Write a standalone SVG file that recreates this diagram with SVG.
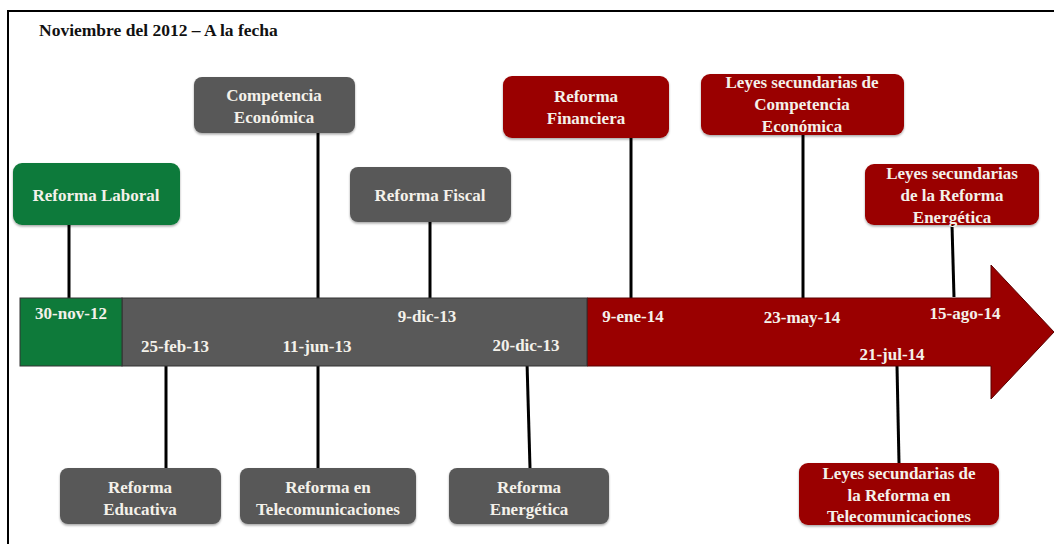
<svg xmlns="http://www.w3.org/2000/svg" width="1054" height="544" viewBox="0 0 1054 544">
<defs>
<filter id="sh" x="-10%" y="-10%" width="120%" height="130%">
<feDropShadow dx="0" dy="1.5" stdDeviation="1.2" flood-color="#000" flood-opacity="0.35"/>
</filter>
</defs>
<style>
text{font-family:"Liberation Serif","Times New Roman",serif;font-weight:bold;font-size:17px;fill:#f4f1ea;text-anchor:middle}
.title{fill:#111;text-anchor:start;font-size:17.5px}
.grey{fill:#595959}
.green{fill:#0e7a3a}
.red{fill:#9a0000}
.box{filter:url(#sh)}
.conn line{stroke:#000;stroke-width:3}
.frame{stroke:#000;stroke-width:2;fill:none}
</style>
<rect width="1054" height="544" fill="#fff"/>
<path class="frame" d="M8,544 V11 H1054"/>
<text class="title" x="39" y="36">Noviembre del 2012 – A la fecha</text>

<g id="connectors" class="conn">
<line x1="69" y1="225" x2="69" y2="298"/>
<line x1="318" y1="133" x2="318" y2="298"/>
<line x1="430" y1="222" x2="430" y2="298"/>
<line x1="631" y1="138" x2="631" y2="298"/>
<line x1="803" y1="135" x2="803" y2="298"/>
<line x1="952" y1="225" x2="954" y2="297"/>
<line x1="166" y1="366" x2="166" y2="468"/>
<line x1="318" y1="366" x2="318" y2="468"/>
<line x1="527" y1="362" x2="530" y2="468"/>
<line x1="897" y1="366" x2="899" y2="463"/>
</g>

<g id="timeline">
<polygon points="587,298 991,298 991,265 1054,332 991,399 991,366 587,366" class="red" stroke="#5a0000" stroke-width="1"/>
<rect x="122" y="298" width="465" height="68" class="grey" stroke="#333" stroke-width="1"/>
<rect x="20" y="298" width="102" height="68" class="green" stroke="#333" stroke-width="1"/>
<text x="71" y="319">30-nov-12</text>
<text x="175" y="352">25-feb-13</text>
<text x="317" y="352">11-jun-13</text>
<text x="427" y="322">9-dic-13</text>
<text x="526" y="351">20-dic-13</text>
<text x="633" y="322">9-ene-14</text>
<text x="802" y="323">23-may-14</text>
<text x="965" y="319">15-ago-14</text>
<text x="892" y="360">21-jul-14</text>
</g>

<g id="reforma-laboral">
<rect class="box green" x="13" y="163" width="167" height="62" rx="9"/>
<text x="96" y="201">Reforma Laboral</text>
</g>
<g id="competencia-economica">
<rect class="box grey" x="194" y="77" width="161" height="56" rx="8"/>
<text x="274" y="101">Competencia</text>
<text x="274" y="123">Económica</text>
</g>
<g id="reforma-fiscal">
<rect class="box grey" x="350" y="167" width="161" height="55" rx="8"/>
<text x="430" y="201">Reforma Fiscal</text>
</g>
<g id="reforma-financiera">
<rect class="box red" x="503" y="76" width="166" height="62" rx="9"/>
<text x="586" y="102">Reforma</text>
<text x="586" y="124">Financiera</text>
</g>
<g id="leyes-competencia">
<rect class="box red" x="701" y="74" width="203" height="61" rx="9"/>
<text x="802" y="88">Leyes secundarias de</text>
<text x="802" y="110">Competencia</text>
<text x="802" y="132">Económica</text>
</g>
<g id="leyes-energetica">
<rect class="box red" x="865" y="164" width="174" height="61" rx="9"/>
<text x="952" y="179">Leyes secundarias</text>
<text x="952" y="201">de la Reforma</text>
<text x="952" y="223">Energética</text>
</g>
<g id="reforma-educativa">
<rect class="box grey" x="60" y="468" width="161" height="56" rx="8"/>
<text x="140" y="493">Reforma</text>
<text x="140" y="515">Educativa</text>
</g>
<g id="reforma-telecom">
<rect class="box grey" x="240" y="468" width="176" height="56" rx="8"/>
<text x="328" y="493">Reforma en</text>
<text x="328" y="515">Telecomunicaciones</text>
</g>
<g id="reforma-energetica">
<rect class="box grey" x="449" y="468" width="160" height="56" rx="8"/>
<text x="529" y="493">Reforma</text>
<text x="529" y="515">Energética</text>
</g>
<g id="leyes-telecom">
<rect class="box red" x="799" y="463" width="200" height="62" rx="9"/>
<text x="899" y="479">Leyes secundarias de</text>
<text x="899" y="501">la Reforma en</text>
<text x="899" y="522">Telecomunicaciones</text>
</g>
</svg>
